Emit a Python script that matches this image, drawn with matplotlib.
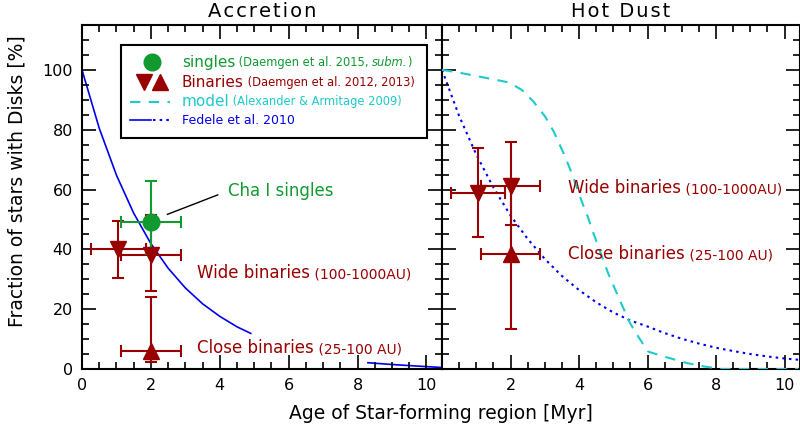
import numpy as np
import matplotlib
matplotlib.use('Agg')
import matplotlib.pyplot as plt
from matplotlib.patches import Rectangle
from matplotlib.ticker import MultipleLocator

# --- data ---
# Accretion panel
acc_single_age = [2.0]
acc_single_frac = [49.0]
acc_single_xerr = [0.87]
acc_single_yerr = [[10.5], [14.0]]

acc_wide_age = [1.05, 2.0]
acc_wide_frac = [40.0, 38.0]
acc_wide_xerr = [0.80, 0.87]
acc_wide_yerr = [[9.5, 12.0], [9.5, 13.5]]

acc_close_age = [2.0]
acc_close_frac = [6.0]
acc_close_xerr = [0.87]
acc_close_yerr = [[3.6], [18.0]]

# Fedele et al. 2010, accretion (visible parts only)
fed_acc_age = [0, 0.5, 1, 1.5, 2, 2.5, 3, 3.5, 4, 4.5, 4.9, np.nan, 8.3, 9.0, 9.7, 10.45]
fed_acc_frac = [100, 80.5, 64.8, 52.1, 41.9, 33.7, 27.1, 21.8, 17.6, 14.1, 11.9, np.nan, 2.1, 1.5, 1.0, 0.5]

# Hot dust panel
hot_wide_age = [1.05, 2.0]
hot_wide_frac = [59.0, 61.3]
hot_wide_xerr = [0.80, 0.87]
hot_wide_yerr = [[15.0, 13.3], [15.0, 14.7]]

hot_close_age = [2.0]
hot_close_frac = [38.5]
hot_close_xerr = [0.87]
hot_close_yerr = [[25.0], [25.0]]

# Fedele et al. 2010, hot dust
fed_hot_age = [0, 0.5, 1, 1.5, 2, 2.5, 3, 3.5, 4, 4.5, 5, 5.5, 6, 6.5, 7, 7.5, 8, 8.5, 9, 9.5, 10, 10.4]
fed_hot_frac = [100, 84.6, 71.7, 60.7, 51.3, 43.5, 36.8, 31.1, 26.4, 22.3, 18.9, 16.2, 14.2, 12.0, 10.1, 8.5, 7.1, 6.0, 5.0, 4.2, 3.5, 3.1]

# Alexander & Armitage 2009 model
model_age = [0, 0.49, 0.98, 1.56, 1.95, 2.33, 2.67, 3.01, 3.26, 3.55, 3.79, 4.08, 4.27, 4.42,
             4.85, 5.19, 5.49, 5.73, 6.02, 6.5, 7.18, 7.67, 8.15, 9.0, 10.4]
model_frac = [100, 99.1, 98, 96.7, 95.8, 93.3, 89.4, 84.4, 79.4, 72.1, 65.4, 56, 50.4, 45.4,
              32, 23, 15.3, 10.8, 5.8, 4.1, 1.9, 0.8, 0.0, 0.0, 0.0]

RED = '#990000'
GREEN = '#109A30'
CYAN = '#1ECACA'
BLUE = '#0000EE'

fig = plt.figure(figsize=(8, 4.28), dpi=100)
ax1 = fig.add_axes([82/800, 59/428, 360/800, 344/428])
ax2 = fig.add_axes([442/800, 59/428, 358/800, 344/428])


def style_axes(ax, ylabels=True, first_x=True):
    ax.set_xlim(0, 10.45)
    ax.set_ylim(0, 115)
    ax.xaxis.set_major_locator(MultipleLocator(2))
    ax.xaxis.set_minor_locator(MultipleLocator(0.5))
    ax.yaxis.set_major_locator(MultipleLocator(20))
    ax.yaxis.set_minor_locator(MultipleLocator(5))
    ax.tick_params(which='both', direction='in', top=True, right=True, labelsize=11.5, pad=6.5)
    ax.tick_params(which='major', length=10, width=1.2)
    ax.tick_params(which='minor', length=5, width=1.2)
    for sp in ax.spines.values():
        sp.set_linewidth(1.5)
    if not ylabels:
        ax.set_yticklabels([])
    if not first_x:
        ax.set_xticks([2, 4, 6, 8, 10])


def write_parts(ax, x, y, parts, transform=None):
    # pieces of text with different sizes, placed one after another on one baseline
    if transform is None:
        transform = ax.transData
    prev = None
    prev_size = None
    for s, size, color, fstyle in parts:
        if prev is None:
            prev = ax.text(x, y, s, transform=transform, fontsize=size, color=color,
                           style=fstyle, ha='left', va='baseline')
        else:
            dy = 0.236 * (prev_size - size)
            prev = ax.annotate(s, xy=(1, 0), xycoords=prev, xytext=(0, dy),
                               textcoords='offset points', fontsize=size, color=color,
                               style=fstyle, ha='left', va='bottom')
        prev_size = size
    return prev


eb = dict(linestyle='none', elinewidth=1.5, capsize=4, capthick=1.5, markersize=12)

# ---- Accretion ----
style_axes(ax1)
ax1.plot(fed_acc_age, fed_acc_frac, color=BLUE, lw=1.2, zorder=1)
ax1.errorbar(acc_wide_age, acc_wide_frac, xerr=acc_wide_xerr, yerr=acc_wide_yerr,
             fmt='v', color=RED, ecolor=RED, **eb)
ax1.errorbar(acc_close_age, acc_close_frac, xerr=acc_close_xerr, yerr=acc_close_yerr,
             fmt='^', color=RED, ecolor=RED, **eb)
ax1.errorbar(acc_single_age, acc_single_frac, xerr=acc_single_xerr, yerr=acc_single_yerr,
             fmt='o', color=GREEN, ecolor=GREEN, **eb)

ax1.plot([2.48, 3.94], [51.7, 58.2], color='k', lw=1)
ax1.text(4.23, 59.5, 'Cha I singles', color=GREEN, fontsize=12, va='center', ha='left')
write_parts(ax1, 3.35, 30.5, [('Wide binaries', 12, RED, 'normal'),
                              (' (100-1000AU)', 10, RED, 'normal')])
write_parts(ax1, 3.35, 5.2, [('Close binaries', 12, RED, 'normal'),
                             (' (25-100 AU)', 10, RED, 'normal')])

# legend drawn by hand
T = ax1.transAxes
ax1.add_patch(Rectangle((0.1075, 0.6715), 0.8515, 0.2705, transform=T, facecolor='white',
                        edgecolor='black', lw=1.5, zorder=5))
lx0, lx1 = (130 - 82) / 360, (170 - 82) / 360
ax1.plot([(151.7 - 82) / 360], [(369 - 61.7) / 344], 'o', color=GREEN, ms=12, transform=T, zorder=6)
ax1.plot([(144 - 82) / 360], [(369 - 81.7) / 344], 'v', color=RED, ms=11, transform=T, zorder=6)
ax1.plot([(160 - 82) / 360], [(369 - 81.7) / 344], '^', color=RED, ms=11, transform=T, zorder=6)
ax1.plot([lx0, lx1], [(369 - 101.7) / 344] * 2, color=CYAN, lw=1.5, ls=(0, (5, 4)),
         transform=T, zorder=6)
ax1.plot([lx0, (151 - 82) / 360], [(369 - 120) / 344] * 2, color=BLUE, lw=1.2, transform=T, zorder=6)
ax1.plot([(153 - 82) / 360, lx1], [(369 - 120) / 344] * 2, color=BLUE, lw=1.5, ls=(0, (1.2, 2)),
         transform=T, zorder=6)
tx = (181.7 - 82) / 360
write_parts(ax1, tx, 0.879, [('singles', 11, GREEN, 'normal'),
                             (' (Daemgen et al. 2015, ', 8.3, GREEN, 'normal'),
                             ('subm.', 8.3, GREEN, 'italic'),
                             (')', 8.3, GREEN, 'normal')], T)
write_parts(ax1, tx, 0.8206, [('Binaries', 11, RED, 'normal'),
                              (' (Daemgen et al. 2012, 2013)', 8.3, RED, 'normal')], T)
write_parts(ax1, tx, 0.7654, [('model', 11, CYAN, 'normal'),
                              (' (Alexander & Armitage 2009)', 8.3, CYAN, 'normal')], T)
write_parts(ax1, tx, 0.712, [('Fedele et al. 2010', 9, BLUE, 'normal')], T)
for txt in ax1.texts:
    txt.set_zorder(7)

ax1.set_title('A\u200ac\u200ac\u200ar\u200ae\u200at\u200ai\u200ao\u200an', fontsize=14, pad=6)

# ---- Hot Dust ----
style_axes(ax2, ylabels=False, first_x=False)
ax2.plot(fed_hot_age, fed_hot_frac, color=BLUE, lw=1.5, ls=(0, (1.2, 2)), zorder=1)
ax2.plot(model_age, model_frac, color=CYAN, lw=1.5, ls=(0, (5, 4)), zorder=3)
ax2.errorbar(hot_close_age, hot_close_frac, xerr=hot_close_xerr, yerr=hot_close_yerr,
             fmt='^', color=RED, ecolor=RED, **eb)
ax2.errorbar(hot_wide_age, hot_wide_frac, xerr=hot_wide_xerr, yerr=hot_wide_yerr,
             fmt='v', color=RED, ecolor=RED, **eb)
write_parts(ax2, 3.69, 58.8, [('Wide binaries', 12, RED, 'normal'),
                              (' (100-1000AU)', 10, RED, 'normal')])
write_parts(ax2, 3.69, 36.7, [('Close binaries', 12, RED, 'normal'),
                              (' (25-100 AU)', 10, RED, 'normal')])
ax2.set_title('H\u200ao\u200at\u200a \u200aD\u200au\u200as\u200at', fontsize=14, pad=6)

fig.text(17.5 / 800, 1 - 181.5 / 428, 'Fraction of stars with Disks [%]', rotation=90,
         ha='center', va='center', fontsize=13.5)
fig.text(441 / 800, 1 - 419 / 428, 'Age of Star-forming region [Myr]', ha='center',
         va='baseline', fontsize=13.5)

fig.savefig('out.png', dpi=100)
